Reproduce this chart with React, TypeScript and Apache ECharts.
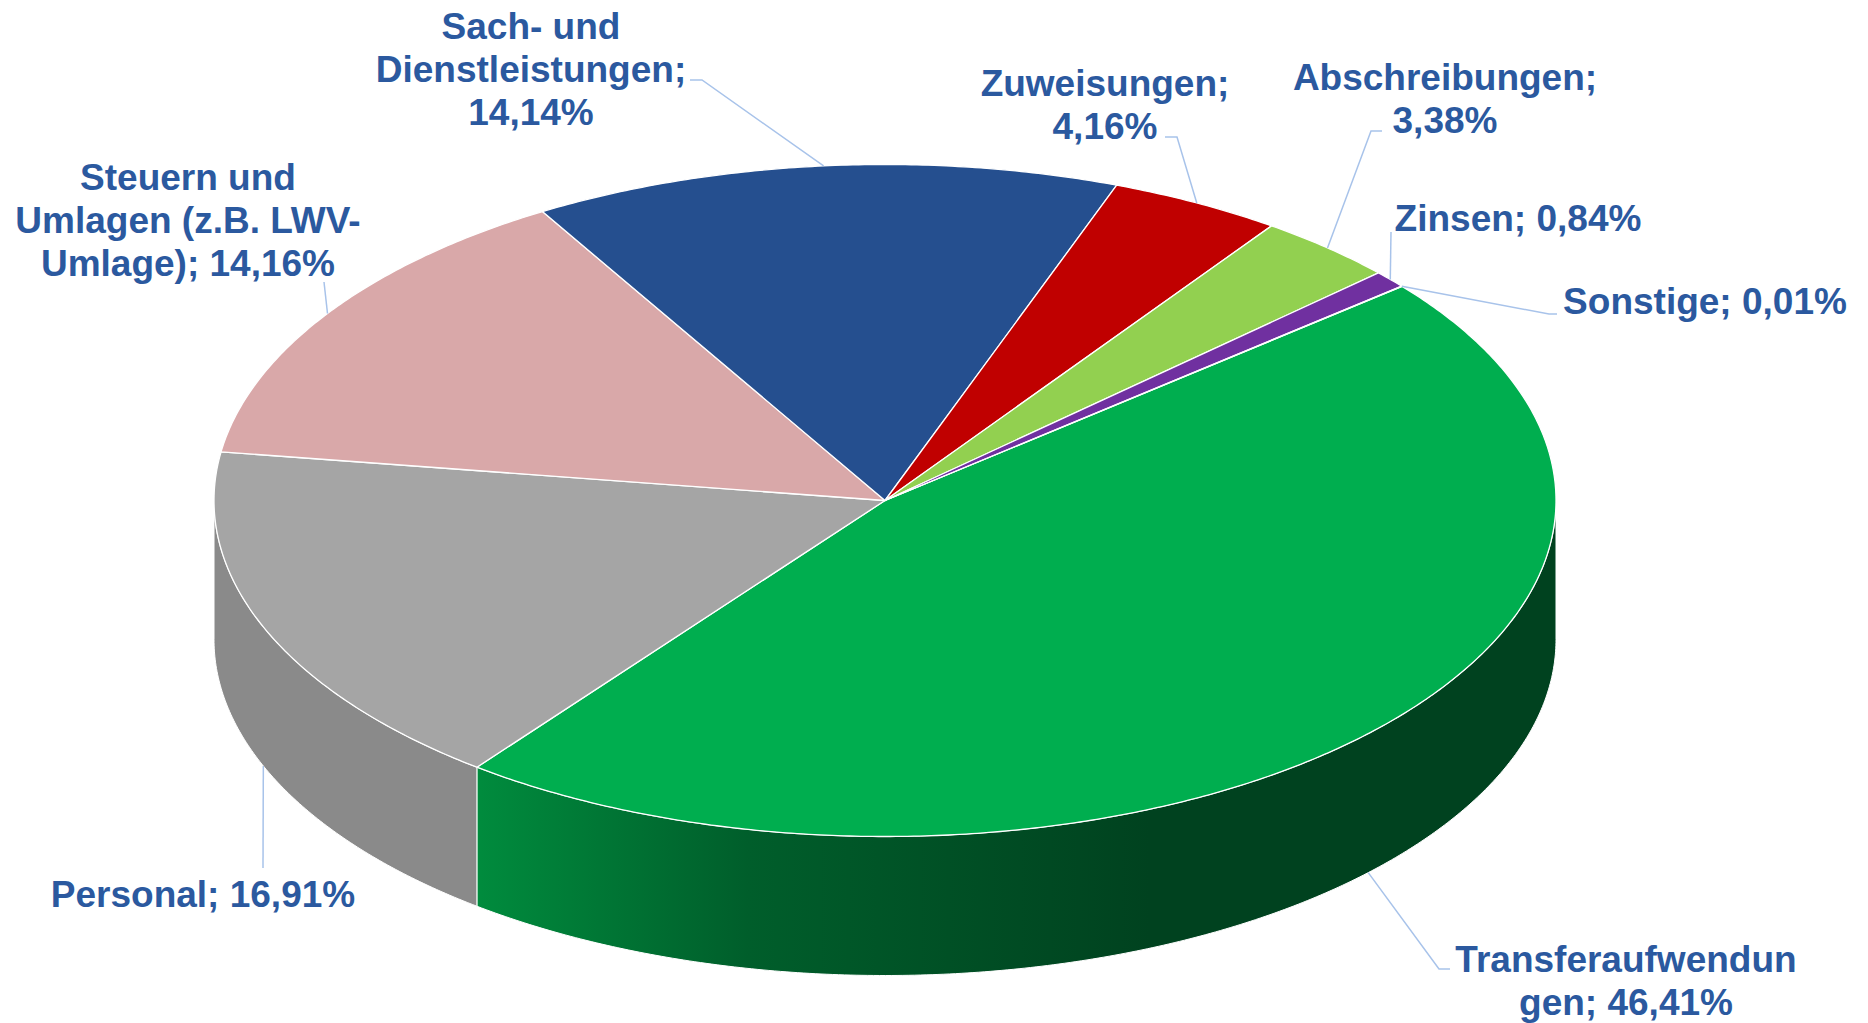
import React, { useEffect, useRef } from 'react';
import * as echarts from 'echarts';

// ---- data ----
const CATEGORIES = [
  'Transferaufwendungen',
  'Personal',
  'Steuern und Umlagen (z.B. LWV-Umlage)',
  'Sach- und Dienstleistungen',
  'Zuweisungen',
  'Abschreibungen',
  'Zinsen',
  'Sonstige',
];
const SHARES = [46.41, 16.91, 14.16, 14.14, 4.16, 3.38, 0.84, 0.01];
// label text as wrapped in the reference; {v} is replaced by the formatted share
const LABEL_TEMPLATES = [
  'Transferaufwendun\ngen; {v}',
  'Personal; {v}',
  'Steuern und\nUmlagen (z.B. LWV-\nUmlage); {v}',
  'Sach- und\nDienstleistungen;\n{v}',
  'Zuweisungen;\n{v}',
  'Abschreibungen;\n{v}',
  'Zinsen; {v}',
  'Sonstige; {v}',
];

// ---- styles ----
const TOP_COLORS = ['#00ae4f', '#a5a5a5', '#d9a8a9', '#254f8f', '#c00000', '#92d050', '#7030a0', '#4472c4'];
const SIDE_COLORS: any[] = [
  {
    type: 'linear', x: 480, y: 0, x2: 1150, y2: 0, global: true,
    colorStops: [
      { offset: 0, color: '#008b3d' },
      { offset: 0.4, color: '#005e2b' },
      { offset: 1, color: '#00421f' },
    ],
  },
  '#8a8a8a', '#b08687', '#1b3a6b', '#900000', '#6d9c3b', '#542478', '#33558f',
];
const LABEL_COLOR = '#2b599f';
const LEADER_COLOR = '#a8c3ea';
const FONT = 'bold 37px "Liberation Sans", Arial, sans-serif';
const LINE_H = 43;

// ---- layout ----
const W = 1868;
const H = 1023;
const CX = 885;
const CY = 500.5;
const RX = 671;
const RY = 336;
const DEPTH = 139;
const START_DEG = -39.6;

// label block centre x, top y, and leader points near the label
const LABEL_LAYOUT = [
  { x: 1626, y: 938, lead: [[1450, 969], [1439, 969]] },
  { x: 203, y: 873, lead: [[263, 868]] },
  { x: 188, y: 156, lead: [[324, 282]] },
  { x: 531, y: 5, lead: [[690, 80], [702, 80]] },
  { x: 1105, y: 62, lead: [[1165, 137], [1177, 137]] },
  { x: 1445, y: 56, lead: [[1382, 131], [1371, 131]] },
  { x: 1518, y: 197, lead: [[1391, 232]] },
  { x: 1705, y: 280, lead: [[1557, 314], [1549, 314]] },
];

const rad = (d: number) => (d * Math.PI) / 180;
const fmt = (v: number) => v.toFixed(2).replace('.', ',') + '%';

function arc(a0: number, a1: number, dy: number) {
  const pts: number[][] = [];
  const n = Math.max(2, Math.ceil(Math.abs(a1 - a0) / 0.5));
  for (let k = 0; k <= n; k++) {
    const t = rad(a0 + ((a1 - a0) * k) / n);
    pts.push([CX + RX * Math.cos(t), CY + RY * Math.sin(t) + dy]);
  }
  return pts;
}

export default function App() {
  const ref = useRef<HTMLDivElement>(null);
  useEffect(() => {
    if (!ref.current) return;
    const chart = echarts.init(ref.current, undefined, { renderer: 'svg' });
    const total = SHARES.reduce((s, v) => s + v, 0);

    const renderItem = (params: any, api: any) => {
      const i = params.dataIndex;
      const v = api.value(1);
      const before = SHARES.slice(0, i).reduce((s, x) => s + x, 0);
      const a0 = START_DEG + (before / total) * 360;
      const a1 = a0 + (v / total) * 360;
      const children: any[] = [];

      // visible side walls (front half: angle in (0,180) mod 360)
      for (const off of [-360, 0, 360]) {
        const s = Math.max(a0, off);
        const e = Math.min(a1, off + 180);
        if (e > s) {
          const top = arc(s, e, 0);
          const bot = arc(s, e, DEPTH).reverse();
          children.push({
            type: 'polygon',
            shape: { points: top.concat(bot) },
            style: { fill: SIDE_COLORS[i], stroke: '#ffffff', lineWidth: 1 },
            z2: 1,
          });
        }
      }
      // top face
      children.push({
        type: 'polygon',
        shape: { points: [[CX, CY]].concat(arc(a0, a1, 0)) },
        style: { fill: TOP_COLORS[i], stroke: '#ffffff', lineWidth: 1.3, lineJoin: 'round' },
        z2: 2,
      });
      // leader line
      const mid = rad((a0 + a1) / 2);
      const sinM = Math.sin(mid);
      const anchor = [CX + RX * Math.cos(mid), CY + RY * sinM + (sinM > 0 ? DEPTH : 0)];
      const lay = LABEL_LAYOUT[i];
      children.push({
        type: 'polyline',
        shape: { points: [...lay.lead, anchor] },
        style: { stroke: LEADER_COLOR, lineWidth: 1.5, fill: null },
        z2: 5,
      });
      // label
      children.push({
        type: 'text',
        style: {
          text: LABEL_TEMPLATES[i].replace('{v}', fmt(v)),
          x: lay.x,
          y: lay.y,
          align: 'center',
          verticalAlign: 'top',
          font: FONT,
          lineHeight: LINE_H,
          fill: LABEL_COLOR,
        },
        z2: 6,
      });
      return { type: 'group', children };
    };

    chart.setOption({
      animation: false,
      backgroundColor: '#ffffff',
      series: [
        {
          type: 'custom',
          coordinateSystem: 'none',
          silent: true,
          renderItem,
          data: SHARES.map((v, i) => ({ name: CATEGORIES[i], value: [i, v] })),
        },
      ],
    });
    return () => chart.dispose();
  }, []);

  return <div ref={ref} style={{ position: 'fixed', left: 0, top: 0, width: W, height: H }} />;
}
